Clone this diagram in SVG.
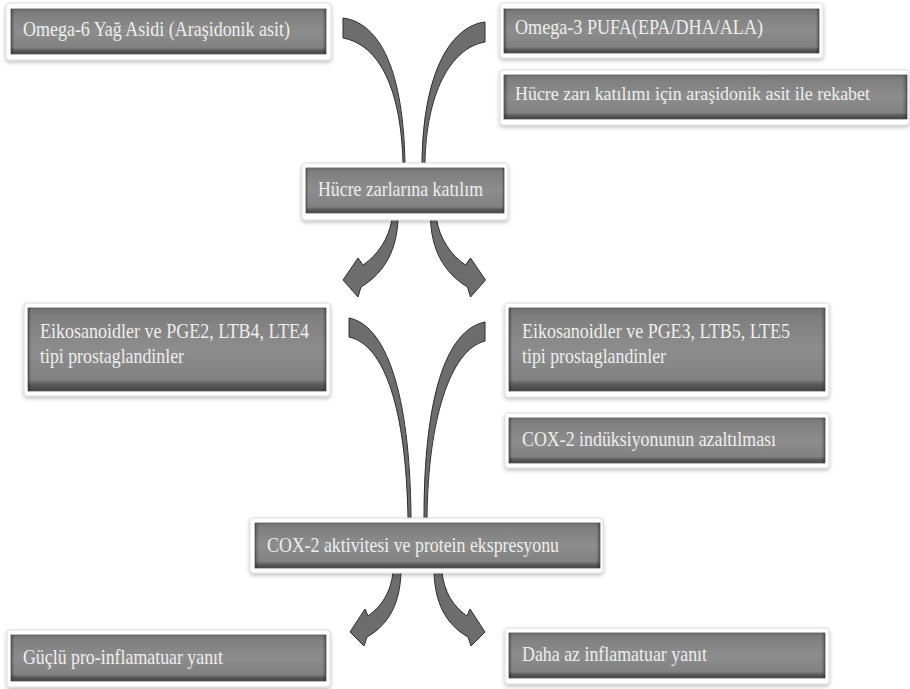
<svg xmlns="http://www.w3.org/2000/svg" width="910" height="689" viewBox="0 0 910 689">
<defs>
<linearGradient id="gv" x1="0" y1="0" x2="0" y2="1">
<stop offset="0" stop-color="#707070"/>
<stop offset="0.1" stop-color="#7f7f7f"/>
<stop offset="0.5" stop-color="#8d8d8d"/>
<stop offset="0.86" stop-color="#818181"/>
<stop offset="0.92" stop-color="#5c5c5c"/>
<stop offset="1" stop-color="#424242"/>
</linearGradient>
<linearGradient id="gh" x1="0" y1="0" x2="1" y2="0">
<stop offset="0" stop-color="#000" stop-opacity="0.3"/>
<stop offset="0.012" stop-color="#000" stop-opacity="0"/>
<stop offset="0.988" stop-color="#000" stop-opacity="0"/>
<stop offset="1" stop-color="#000" stop-opacity="0.3"/>
</linearGradient>
<filter id="sh" x="-5%" y="-20%" width="110%" height="150%">
<feDropShadow dx="0" dy="2" stdDeviation="2" flood-color="#000" flood-opacity="0.25"/>
</filter>
</defs>
<style>
.frame{fill:#ffffff;stroke:#dcdcdc;stroke-width:1;filter:url(#sh)}
.body{fill:url(#gv);stroke:#5a5a5a;stroke-width:0.8}
.edge{fill:url(#gh)}
.t{font-family:"Liberation Serif","Times New Roman",serif;font-size:21px;fill:#eeeeee}
.arrow{fill:#6d6d6d;stroke:#2e2e2e;stroke-width:1;stroke-linejoin:round}
</style>
<rect width="910" height="689" fill="#ffffff"/>
<g id="connectors">
<path class="arrow" d="M343,18 C375,22 403,60 405,163 L403,163 C401,90 380,45 343,38 Z"/>
<path class="arrow" d="M485,22 C452,26 423,70 422,163 L425,163 C426,95 450,48 485,42 Z"/>
<path class="arrow" d="M392,219 L398,219 C397,248 386,272 361,287 L358,297 L343,280 L358,258 L363,265 C378,255 389,238 392,219 Z"/>
<path class="arrow" d="M436.5,219 L430.5,219 C431.5,248 442.5,272 467.5,287 L470.5,297 L485.5,280 L470.5,258 L465.5,265 C450.5,255 439.5,238 436.5,219 Z"/>
<path class="arrow" d="M349,318 C385,325 410,390 411,518 L408,518 C406,410 385,345 349,337 Z"/>
<path class="arrow" d="M485,322 C445,330 424,400 424,518 L427,518 C428,420 450,350 485,341 Z"/>
<path class="arrow" d="M393,572 L401,572 C400,602 390,624 367,637 L364,646 L350,632 L365,609 L368,616 C382,606 391,592 393,572 Z"/>
<path class="arrow" d="M442,572 L434,572 C435,602 445,624 468,637 L471,646 L485,632 L470,609 L467,616 C453,606 444,592 442,572 Z"/>
</g>
<g id="n1">
<rect class="frame" x="6" y="3" width="325" height="57" rx="3"/>
<rect class="body" x="11" y="9" width="315" height="45"/>
<rect class="edge" x="11" y="9" width="315" height="45"/>
<text class="t" x="23" y="36" textLength="267" lengthAdjust="spacingAndGlyphs">Omega-6 Yağ Asidi (Araşidonik asit)</text>
</g>
<g id="n2">
<rect class="frame" x="500" y="3" width="323" height="55" rx="3"/>
<rect class="body" x="504" y="9" width="315" height="44"/>
<rect class="edge" x="504" y="9" width="315" height="44"/>
<text class="t" x="515" y="34" textLength="248" lengthAdjust="spacingAndGlyphs">Omega-3 PUFA(EPA/DHA/ALA)</text>
</g>
<g id="n3">
<rect class="frame" x="500" y="70" width="409" height="55" rx="3"/>
<rect class="body" x="504" y="75" width="403" height="44"/>
<rect class="edge" x="504" y="75" width="403" height="44"/>
<text class="t" x="515" y="100" font-size="19.5" style="font-size:19.5px" textLength="355" lengthAdjust="spacingAndGlyphs">Hücre zarı katılımı için araşidonik asit ile rekabet</text>
</g>
<g id="n4">
<rect class="frame" x="302" y="163" width="206" height="57" rx="3"/>
<rect class="body" x="306" y="168" width="198" height="45"/>
<rect class="edge" x="306" y="168" width="198" height="45"/>
<text class="t" x="318" y="196" textLength="165" lengthAdjust="spacingAndGlyphs">Hücre zarlarına katılım</text>
</g>
<g id="n5">
<rect class="frame" x="24" y="303" width="306" height="93" rx="3"/>
<rect class="body" x="28" y="308" width="298" height="83"/>
<rect class="edge" x="28" y="308" width="298" height="83"/>
<text class="t" x="40" y="338" textLength="269" lengthAdjust="spacingAndGlyphs">Eikosanoidler ve PGE2, LTB4, LTE4</text>
<text class="t" x="40" y="363" textLength="144" lengthAdjust="spacingAndGlyphs">tipi prostaglandinler</text>
</g>
<g id="n6">
<rect class="frame" x="505" y="303" width="324" height="94" rx="3"/>
<rect class="body" x="509" y="308" width="316" height="83"/>
<rect class="edge" x="509" y="308" width="316" height="83"/>
<text class="t" x="522" y="338" textLength="268" lengthAdjust="spacingAndGlyphs">Eikosanoidler ve PGE3, LTB5, LTE5</text>
<text class="t" x="522" y="363" textLength="144" lengthAdjust="spacingAndGlyphs">tipi prostaglandinler</text>
</g>
<g id="n7">
<rect class="frame" x="505" y="413" width="324" height="55" rx="3"/>
<rect class="body" x="509" y="418" width="316" height="45"/>
<rect class="edge" x="509" y="418" width="316" height="45"/>
<text class="t" x="522" y="446" textLength="254" lengthAdjust="spacingAndGlyphs">COX-2 indüksiyonunun azaltılması</text>
</g>
<g id="n8">
<rect class="frame" x="250" y="518" width="353" height="55" rx="3"/>
<rect class="body" x="255" y="523" width="345" height="45"/>
<rect class="edge" x="255" y="523" width="345" height="45"/>
<text class="t" x="267" y="552" textLength="292" lengthAdjust="spacingAndGlyphs">COX-2 aktivitesi ve protein ekspresyonu</text>
</g>
<g id="n9">
<rect class="frame" x="7" y="630" width="323" height="57" rx="3"/>
<rect class="body" x="11" y="635" width="315" height="46"/>
<rect class="edge" x="11" y="635" width="315" height="46"/>
<text class="t" x="23" y="664" textLength="200" lengthAdjust="spacingAndGlyphs">Güçlü pro-inflamatuar yanıt</text>
</g>
<g id="n10">
<rect class="frame" x="505" y="628" width="324" height="56" rx="3"/>
<rect class="body" x="509" y="633" width="316" height="45"/>
<rect class="edge" x="509" y="633" width="316" height="45"/>
<text class="t" x="522" y="661" textLength="185" lengthAdjust="spacingAndGlyphs">Daha az inflamatuar yanıt</text>
</g>
</svg>
